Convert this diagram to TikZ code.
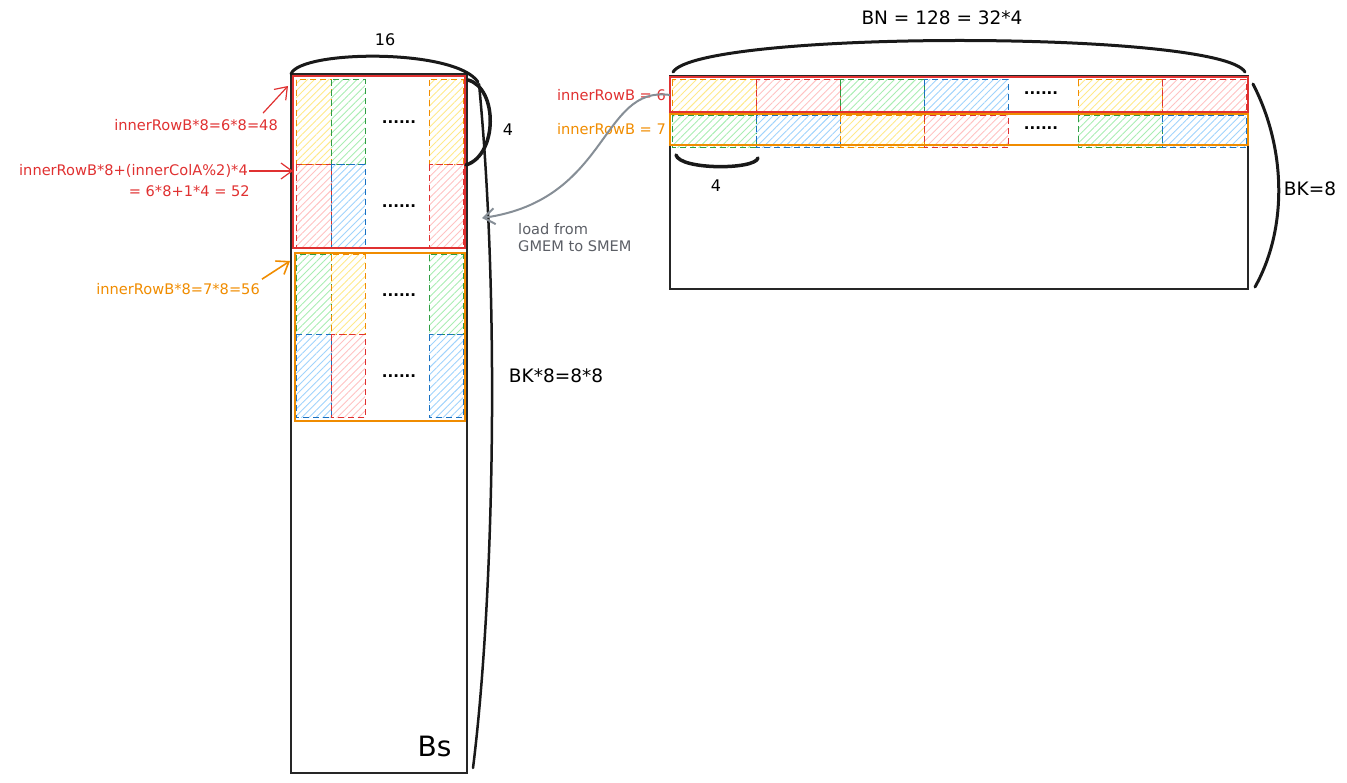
\documentclass[tikz,border=0pt]{standalone}
\usepackage{fontspec}
\setmainfont{DejaVu Sans}
\usetikzlibrary{positioning,arrows.meta,patterns.meta}

\definecolor{xred}{HTML}{E03131}
\definecolor{xorange}{HTML}{F08C00}
\definecolor{xgreen}{HTML}{2F9E44}
\definecolor{xblue}{HTML}{1971C2}
\definecolor{hyellow}{HTML}{FFE98A}
\definecolor{hred}{HTML}{FFC2C2}
\definecolor{hgreen}{HTML}{A9EDB3}
\definecolor{hblue}{HTML}{A0D3FC}
\definecolor{xgray}{HTML}{868E96}
\definecolor{tgray}{HTML}{5C5F66}

\tikzset{
  box/.style={draw=black!85, line width=1.3pt, inner sep=0pt, outer sep=0pt},
  rowbox/.style={draw=#1, line width=2pt, inner sep=0pt, outer sep=0pt},
  cell/.style={line width=1pt, dash pattern=on 6pt off 4pt,
    pattern={Lines[angle=45,distance=5pt,line width=0.9pt]}},
  cY/.style={cell, draw=xorange, pattern color=hyellow},
  cR/.style={cell, draw=xred, pattern color=hred},
  cG/.style={cell, draw=xgreen, pattern color=hgreen},
  cB/.style={cell, draw=xblue, pattern color=hblue},
  lbl/.style={font=\fontsize{14.6}{17}\selectfont, inner sep=1pt},
  big/.style={font=\fontsize{18.5}{22}\selectfont, inner sep=1pt},
  dots/.style={font=\fontsize{15}{15}\selectfont\bfseries},
  brace/.style={draw=black!90, line width=3pt, line cap=round},
  tip/.style={-{Straight Barb[length=11pt,width=16pt]}, line width=1.2pt},
}

\begin{document}
\begin{tikzpicture}[x=1pt, y=-1pt]
	\useasboundingbox (0,0) rectangle (1347,783);

	% Bs in shared memory
	\node[box, minimum width=176, minimum height=699] (Bs) at (379,423.5) {};
	\foreach \y/\h/\a/\b in {80/85/cY/cG, 165/83/cR/cB, 255/80/cG/cY, 335/83/cB/cR} {
		\draw[\a] (296,\y) rectangle +(35,\h);
		\draw[\b] (331,\y) rectangle +(34,\h);
		\draw[\a] (429,\y) rectangle +(34,\h);
		\node[dots] at (399,\y+\h/2) {......};
	}
	\node[rowbox=xred, minimum width=172, minimum height=172] (bRow6) at (379,162) {};
	\node[rowbox=xorange, minimum width=170, minimum height=168] (bRow7) at (380,337) {};
	\node[font=\fontsize{28}{30}\selectfont, anchor=south east] (BsName) at (455,760) {Bs};

	% tile of B in global memory
	\node[box, minimum width=578, minimum height=213] (Bmat) at (959,182.5) {};
	\foreach \x/\a/\b in {672/cY/cG, 756/cR/cB, 840/cG/cY, 924/cB/cR, 1078/cY/cG, 1162/cR/cB} {
		\draw[\a] (\x,80) rectangle +(84,33);
		\draw[\b] (\x,116) rectangle +(84,32);
	}
	\node[dots] at (1041,93) {......};
	\node[dots] at (1041,128) {......};
	\node[rowbox=xred, minimum width=578, minimum height=35] (Mrow6) at (959,95) {};
	\node[rowbox=xorange, minimum width=578, minimum height=31] (Mrow7) at (959,129.5) {};

	% labels
	\node[lbl, text=xred, anchor=east] (l48) at (279,125) {innerRowB*8=6*8=48};
	\node[lbl, text=xred, anchor=east] (l52) at (249,171) {innerRowB*8+(innerColA\%2)*4};
	\node[lbl, text=xred, anchor=east] (l52b) at (251,191) {= 6*8+1*4 = 52};
	\node[lbl, text=xorange, anchor=east] (l56) at (261,289) {innerRowB*8=7*8=56};
	\node[lbl, text=xred, left=3pt of Mrow6.west] (r6) {innerRowB = 6};
	\node[lbl, text=xorange, left=3pt of Mrow7.west] (r7) {innerRowB = 7};
	\node[lbl, text=tgray, align=left, anchor=north west] (load) at (517,222) {load from\\GMEM to SMEM};

	\draw[tip, xred] ([xshift=-16pt,yshift=5pt]l48.north east) -- ([shift={(-5,10)}]bRow6.north west);
	\draw[tip, xred] (l52.east) -- (bRow6.west |- l52.east);
	\draw[tip, xorange, line width=1.6pt] ([xshift=1pt,yshift=3pt]l56.north east) -- ([shift={(-5,8)}]bRow7.north west);

	% braces
	\draw[brace] (Bs.north west) .. controls (300,50) and (455,48) .. (478,82);
	\node[big, font=\fontsize{16}{18}\selectfont] (w16) at (385,40) {16};
	\draw[brace, line width=3.5pt] (468,80) .. controls (498,88) and (498,155) .. (466,165);
	\node[big, font=\fontsize{16}{18}\selectfont] (h4) at (508,130) {4};
	\draw[brace, line width=2.5pt] (479,84) .. controls (500,300) and (494,600) .. (473,768);
	\node[big] (hBs) at (556,376) {BK*8=8*8};

	\draw[brace] (673,72) .. controls (700,30) and (1220,30) .. (1245,72);
	\node[big] (wBN) at (942,18) {BN = 128 = 32*4};
	\draw[brace] (1253,84) .. controls (1287,150) and (1287,230) .. (1255,287);
	\node[big] (hBK) at (1310,189) {BK=8};
	\draw[brace, line width=3.5pt] (676,155) .. controls (680,170) and (755,170) .. (758,158);
	\node[big, font=\fontsize{16}{18}\selectfont] (w4) at (716,186) {4};

	% load arrow
	\coordinate (dst) at (482,218);
	\draw[tip, xgray, line width=2pt] (Mrow6.west) .. controls (600,85) and (610,200) .. (dst);
\end{tikzpicture}
\end{document}
